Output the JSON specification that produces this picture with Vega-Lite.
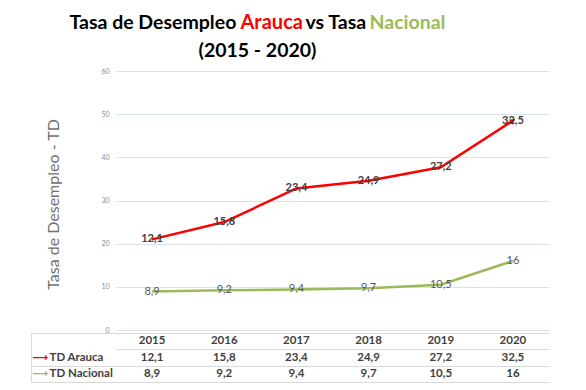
{
  "$schema": "https://vega.github.io/schema/vega-lite/v6.json",
  "padding": {"left": 30, "top": 12, "right": 5, "bottom": 5},
  "background": "white",
  "bounds": "flush",
  "spacing": 3,
  "config": {
    "view": {"stroke": null},
    "font": "Lato",
    "locale": {"number": {"decimal": ",", "thousands": ".", "grouping": [3], "currency": ["$", ""]}}
  },
  "datasets": {
    "td": [
      {"year": 2015, "serie": "TD Arauca", "value": 12.1},
      {"year": 2016, "serie": "TD Arauca", "value": 15.8},
      {"year": 2017, "serie": "TD Arauca", "value": 23.4},
      {"year": 2018, "serie": "TD Arauca", "value": 24.9},
      {"year": 2019, "serie": "TD Arauca", "value": 27.2},
      {"year": 2020, "serie": "TD Arauca", "value": 32.5},
      {"year": 2015, "serie": "TD Nacional", "value": 8.9},
      {"year": 2016, "serie": "TD Nacional", "value": 9.2},
      {"year": 2017, "serie": "TD Nacional", "value": 9.4},
      {"year": 2018, "serie": "TD Nacional", "value": 9.7},
      {"year": 2019, "serie": "TD Nacional", "value": 10.5},
      {"year": 2020, "serie": "TD Nacional", "value": 16}
    ]
  },
  "vconcat": [
    {
      "width": 433,
      "height": 259,
      "data": {"name": "td"},
      "transform": [
        {"stack": "value", "groupby": ["year"], "sort": [{"field": "serie", "order": "descending"}], "as": ["y0", "y1"]}
      ],
      "layer": [
        {
          "mark": {"type": "line", "strokeWidth": 2.5},
          "encoding": {
            "x": {"field": "year", "type": "ordinal", "scale": {"type": "point", "padding": 0.5},
              "axis": {"orient": "bottom", "labels": false, "ticks": false, "domain": false, "grid": false,
                "title": "Tasa de Desempleo", "titleX": -47, "titleY": -302, "titleAlign": "left", "titleBaseline": "alphabetic",
                "titleFont": "Lato", "titleFontSize": 19.5, "titleFontWeight": "bold", "titleColor": "#000000"}},
            "y": {"field": "y1", "type": "quantitative", "scale": {"domain": [0, 60]},
              "axis": {"orient": "left", "values": [0, 10, 20, 30, 40, 50, 60], "grid": true, "gridColor": "#d9e1f2",
                "ticks": false, "domain": false, "labelFontSize": 7, "labelColor": "#8c8c8c", "labelPadding": 7,
                "title": "Tasa de Desempleo - TD", "titleFontSize": 16, "titleColor": "#6f6f6f", "titleFontWeight": "normal",
                "titleX": -63, "titleY": 133, "titleAngle": -90, "titleAlign": "center", "titleBaseline": "middle"}},
            "color": {"field": "serie", "type": "nominal",
              "scale": {"domain": ["TD Arauca", "TD Nacional"], "range": ["#ff0000", "#9bbb59"]}, "legend": null}
          }
        },
        {
          "transform": [{"filter": "datum.serie == 'TD Arauca' && datum.year == 2020"}],
          "mark": {"type": "point", "shape": "triangle-right", "filled": true, "size": 40, "angle": -33, "color": "#ff0000", "opacity": 1},
          "encoding": {
            "x": {"field": "year", "type": "ordinal", "axis": null},
            "y": {"field": "y1", "type": "quantitative", "axis": null}
          }
        },
        {
          "transform": [{"filter": "datum.serie == 'TD Arauca'"}],
          "mark": {"type": "text", "font": "Lato", "fontSize": 11, "fontWeight": "bold", "color": "#404040"},
          "encoding": {
            "x": {"field": "year", "type": "ordinal",
              "axis": {"orient": "top", "labels": false, "ticks": false, "domain": false, "grid": false,
                "title": "Arauca", "titleX": 124, "titleY": -43, "titleAlign": "left", "titleBaseline": "alphabetic",
                "titleFont": "Lato", "titleFontSize": 20, "titleFontWeight": "bold", "titleColor": "#ff0000"}},
            "y": {"field": "y1", "type": "quantitative",
              "axis": {"orient": "right", "labels": false, "ticks": false, "domain": false, "grid": false,
                "title": "Nacional", "titleX": -180, "titleY": -43, "titleAngle": 0, "titleAlign": "left", "titleBaseline": "alphabetic",
                "titleFont": "Lato", "titleFontSize": 19.5, "titleFontWeight": "bold", "titleColor": "#9bbb59"}},
            "text": {"field": "value", "type": "quantitative", "format": ".1~f"}
          }
        },
        {
          "transform": [{"filter": "datum.serie == 'TD Nacional'"}],
          "mark": {"type": "text", "font": "Lato", "fontSize": 11, "color": "#595959"},
          "encoding": {
            "x": {"field": "year", "type": "ordinal",
              "axis": {"orient": "top", "labels": false, "ticks": false, "domain": false, "grid": false,
                "title": "vs Tasa", "titleX": 189, "titleY": -43, "titleAlign": "left", "titleBaseline": "alphabetic",
                "titleFont": "Lato", "titleFontSize": 19.5, "titleFontWeight": "bold", "titleColor": "#000000"}},
            "y": {"field": "y1", "type": "quantitative",
              "axis": {"orient": "right", "labels": false, "ticks": false, "domain": false, "grid": false,
                "title": "(2015 - 2020)", "titleX": -292, "titleY": -15, "titleAngle": 0, "titleAlign": "center", "titleBaseline": "alphabetic",
                "titleFont": "Lato", "titleFontSize": 19.5, "titleFontWeight": "bold", "titleColor": "#000000"}},
            "text": {"field": "value", "type": "quantitative", "format": ".1~f"}
          }
        }
      ],
      "resolve": {"axis": {"x": "independent", "y": "independent"}}
    },
    {
      "width": 433,
      "height": 49,
      "data": {"name": "td"},
      "layer": [
        {
          "transform": [{"filter": "datum.serie == 'TD Arauca'"}],
          "mark": {"type": "text", "font": "Lato", "fontSize": 11.5, "fontWeight": "bold", "color": "#404040"},
          "encoding": {
            "x": {"field": "year", "type": "ordinal", "scale": {"type": "band", "paddingInner": 0, "paddingOuter": 0},
              "axis": {"grid": true, "tickBand": "extent", "gridColor": "#d9d9d9", "labels": false, "ticks": false, "domain": false, "title": null}},
            "y": {"datum": "Año", "type": "ordinal",
              "scale": {"type": "band", "paddingInner": 0, "paddingOuter": 0, "domain": ["Año", "TD Arauca", "TD Nacional"]},
              "axis": {"orient": "left", "offset": 85, "domain": true, "domainColor": "#d9d9d9", "ticks": false, "grid": false,
                "labelExpr": "datum.value == 'Año' ? '' : '⟶'", "labelAlign": "left", "labelPadding": -1,
                "labelFont": "DejaVu Sans", "labelFontSize": 11, "labelFontWeight": "bold",
                "labelColor": {"condition": {"test": "datum.value == 'TD Arauca'", "value": "#ff0000"}, "value": "#9bbb59"},
                "title": null}},
            "text": {"field": "year", "type": "ordinal"}
          }
        },
        {
          "mark": {"type": "text", "font": "Lato", "fontSize": 11.5, "fontWeight": "bold", "color": "#404040"},
          "encoding": {
            "x": {"field": "year", "type": "ordinal", "axis": null},
            "y": {"field": "serie", "type": "ordinal",
              "axis": {"orient": "left", "grid": true, "tickBand": "extent", "gridColor": "#d9d9d9",
                "ticks": true, "tickSize": 85,
                "tickColor": {"condition": {"test": "datum.value == 'Año'", "value": "transparent"}, "value": "#d9d9d9"},
                "domain": false,
                "labelAlign": "left", "labelPadding": -18, "labelExpr": "datum.value == 'Año' ? '' : datum.value",
                "labelFont": "Lato", "labelFontWeight": "bold", "labelFontSize": 11.5, "labelColor": "#404040", "title": null}},
            "text": {"field": "value", "type": "quantitative", "format": ".1~f"}
          }
        }
      ],
      "resolve": {"axis": {"y": "independent"}}
    }
  ]
}
